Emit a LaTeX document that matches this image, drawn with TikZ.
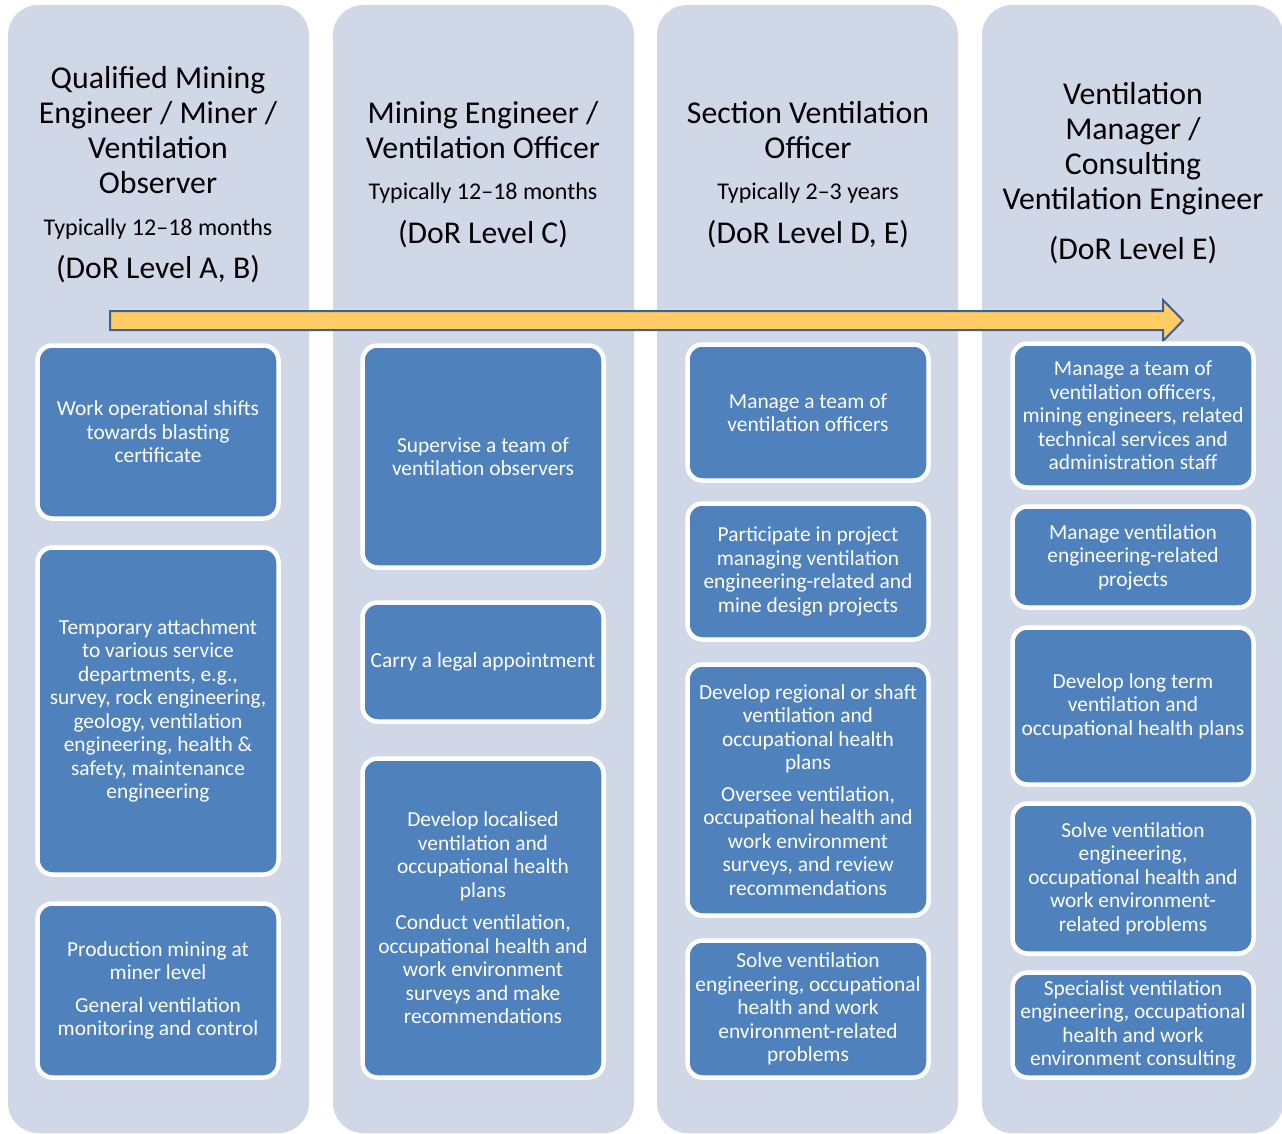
\documentclass[tikz,border=0pt]{standalone}
\usepackage{fontspec}
\setmainfont{Carlito}
\definecolor{lanebg}{RGB}{208,216,232}
\definecolor{taskblue}{RGB}{79,129,189}
\definecolor{arrowfill}{RGB}{255,204,102}
\definecolor{arrowline}{RGB}{65,96,138}

\begin{document}
\begin{tikzpicture}[x=1pt, y=-1pt,
    lane/.style={fill=lanebg, rounded corners=30pt},
    role/.style={align=center, font=\fontsize{31.8}{35}\selectfont},
    period/.style={font=\fontsize{24}{27}\selectfont},
    dor/.style={font=\fontsize{31.7}{35}\selectfont},
    task/.style={rectangle, rounded corners=15pt, fill=taskblue, draw=white, line width=4.5pt,
        text=white, align=center, font=\fontsize{21.4}{23.5}\selectfont,
        minimum width=241pt, inner sep=2pt}]

\useasboundingbox (0,0) rectangle (1282,1133);

% columns
\foreach \x in {8,333,657,982}
    \fill[lane] (\x,5) rectangle ++(301,1128);

% headings
\node[role] (role1) at (158,130.5) {Qualified Mining\\Engineer / Miner /\\Ventilation\\Observer};
\node[period] (time1) at (158,229) {Typically 12--18 months};
\node[dor] (dor1) at (158,269) {(DoR Level A, B)};

\node[role] (role2) at (483,130.5) {Mining Engineer /\\Ventilation Officer};
\node[period] (time2) at (483,193) {Typically 12--18 months};
\node[dor] (dor2) at (483,234) {(DoR Level C)};

\node[role] (role3) at (808,130.5) {Section Ventilation\\Officer};
\node[period] (time3) at (808,193) {Typically 2--3 years};
\node[dor] (dor3) at (808,234) {(DoR Level D, E)};

\node[role] (role4) at (1133,149) {Ventilation\\Manager /\\Consulting\\Ventilation Engineer};
\node[dor] (dor4) at (1133,250) {(DoR Level E)};

% progression arrow
\draw[fill=arrowfill, draw=arrowline, line width=2pt, line join=miter]
    (110,311) -- (1163,311) -- (1163,300) -- (1183,320.5) -- (1163,341)
    -- (1163,330) -- (110,330) -- cycle;

% column 1
\node[task, minimum height=173pt] (obs1) at (158,432) {Work operational shifts\\towards blasting\\certificate};
\node[task, minimum height=327pt] (obs2) at (158,711) {Temporary attachment\\to various service\\departments, e.g.,\\survey, rock engineering,\\geology, ventilation\\engineering, health \&\\safety, maintenance\\engineering};
\node[task, minimum height=174pt] (obs3) at (158,990.5) {Production mining at\\miner level\\[9pt]General ventilation\\monitoring and control};

% column 2
\node[task, minimum height=222pt] (off1) at (483,456.5) {Supervise a team of\\ventilation observers};
\node[task, minimum height=119pt] (off2) at (483,662) {Carry a legal appointment};
\node[task, minimum height=319pt] (off3) at (483,918) {Develop localised\\ventilation and\\occupational health\\plans\\[9pt]Conduct ventilation,\\occupational health and\\work environment\\surveys and make\\recommendations};

% column 3
\node[task, minimum height=136pt] (sec1) at (808,412.5) {Manage a team of\\ventilation officers};
\node[task, minimum height=136pt] (sec2) at (808,571.5) {Participate in project\\managing ventilation\\engineering-related and\\mine design projects};
\node[task, minimum height=251pt] (sec3) at (808,790) {Develop regional or shaft\\ventilation and\\occupational health\\plans\\[8pt]Oversee ventilation,\\occupational health and\\work environment\\surveys, and review\\recommendations};
\node[task, minimum height=137pt] (sec4) at (808,1009) {Solve ventilation\\engineering, occupational\\health and work\\environment-related\\problems};

% column 4
\node[task, minimum height=144pt] (mgr1) at (1133,415.5) {Manage a team of\\ventilation officers,\\mining engineers, related\\technical services and\\administration staff};
\node[task, minimum height=101pt] (mgr2) at (1133,557) {Manage ventilation\\engineering-related\\projects};
\node[task, minimum height=157pt] (mgr3) at (1133,706) {Develop long term\\ventilation and\\occupational health plans};
\node[task, minimum height=150pt] (mgr4) at (1133,878.5) {Solve ventilation\\engineering,\\occupational health and\\work environment-\\related problems};
\node[task, minimum height=105pt] (mgr5) at (1133,1025) {Specialist ventilation\\engineering, occupational\\health and work\\environment consulting};

\end{tikzpicture}
\end{document}
